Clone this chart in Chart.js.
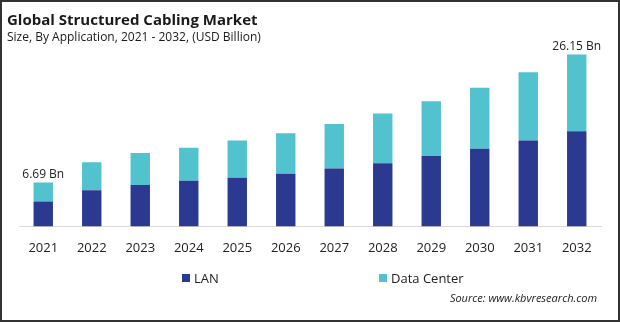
<!DOCTYPE html>
<html>
<head>
<meta charset="utf-8">
<script src="https://cdn.jsdelivr.net/npm/chart.js@4"></script>
<style>
  html, body { margin: 0; padding: 0; background: #fff; }
  #wrap { position: relative; width: 620px; height: 322px; overflow: hidden; }
  #frame { position: absolute; left: 0; top: 0; width: 620px; height: 322px; box-sizing: border-box; border: 2px solid #333; pointer-events: none; }
  .leg { position: absolute; top: 270px; font: 13px "Open Sans", sans-serif; color: #222; line-height: 16px; white-space: nowrap; }
  .leg i { display: inline-block; width: 8px; height: 8px; margin-right: 4px; vertical-align: 1px; }
  #source { position: absolute; right: 23px; top: 290px; font: italic 11px "Open Sans", sans-serif; color: #222; }
</style>
</head>
<body>
<div id="wrap">
  <canvas id="chart" width="620" height="322"></canvas>
  <div class="leg" style="left:182px"><i style="background:#2b3990"></i>LAN</div>
  <div class="leg" style="left:379px"><i style="background:#52c2cf"></i>Data Center</div>
  <div id="source">Source: www.kbvresearch.com</div>
  <div id="frame"></div>
</div>
<script>
// valores (USD Billion)
var years = ['2021', '2022', '2023', '2024', '2025', '2026', '2027', '2028', '2029', '2030', '2031', '2032'];
var lan = [3.78, 5.51, 6.30, 6.93, 7.40, 8.03, 8.82, 9.61, 10.71, 11.81, 13.07, 14.49];
var dataCenter = [2.91, 4.25, 4.88, 5.04, 5.67, 6.14, 6.77, 7.56, 8.35, 9.29, 10.39, 11.66];
var totalLabels = ['6.69 Bn', '', '', '', '', '', '', '', '', '', '', '26.15 Bn'];

// etiquetas encima de la primera y ultima barra
var topLabels = {
    id: 'topLabels',
    afterDatasetsDraw: function (chart) {
        var ctx = chart.ctx;
        var meta = chart.getDatasetMeta(1);
        ctx.save();
        ctx.font = '12px "Open Sans", sans-serif';
        ctx.fillStyle = '#222';
        ctx.textAlign = 'center';
        ctx.textBaseline = 'bottom';
        meta.data.forEach(function (bar, i) {
            if (totalLabels[i]) {
                ctx.fillText(totalLabels[i], bar.x, bar.y - 2);
            }
        });
        ctx.restore();
    }
};

var ctx = document.getElementById('chart').getContext('2d');
var myChart = new Chart(ctx, {
    type: 'bar',
    data: {
        labels: years,
        datasets: [{
            label: 'LAN',
            data: lan,
            backgroundColor: '#2b3990',
            barPercentage: 0.4,
            categoryPercentage: 1
        }, {
            label: 'Data Center',
            data: dataCenter,
            backgroundColor: '#52c2cf',
            barPercentage: 0.4,
            categoryPercentage: 1
        }]
    },
    options: {
        responsive: false,
        animation: false,
        layout: { padding: { top: 12, left: 7, right: 19, bottom: 60 } },
        plugins: {
            legend: { display: false },
            tooltip: { enabled: false },
            title: {
                display: true,
                text: 'Global Structured Cabling Market',
                align: 'start',
                color: '#1a1a1a',
                font: { family: 'Open Sans', size: 15, weight: 'bold' },
                padding: { top: 0, bottom: 0 }
            },
            subtitle: {
                display: true,
                text: 'Size, By Application, 2021 - 2032, (USD Billion)',
                align: 'start',
                color: '#1a1a1a',
                font: { family: 'Open Sans', size: 12 },
                padding: { top: 0, bottom: 0 }
            }
        },
        scales: {
            x: {
                stacked: true,
                grid: { display: false },
                border: { color: '#d9d9d9' },
                ticks: { color: '#222', padding: 6, font: { family: 'Open Sans', size: 13 } }
            },
            y: {
                stacked: true,
                min: 0,
                max: 27.7,
                grid: { display: false },
                border: { display: false },
                ticks: { display: false },
                afterFit: function (scale) { scale.width = 12; }
            }
        }
    },
    plugins: [topLabels]
});
</script>
</body>
</html>
